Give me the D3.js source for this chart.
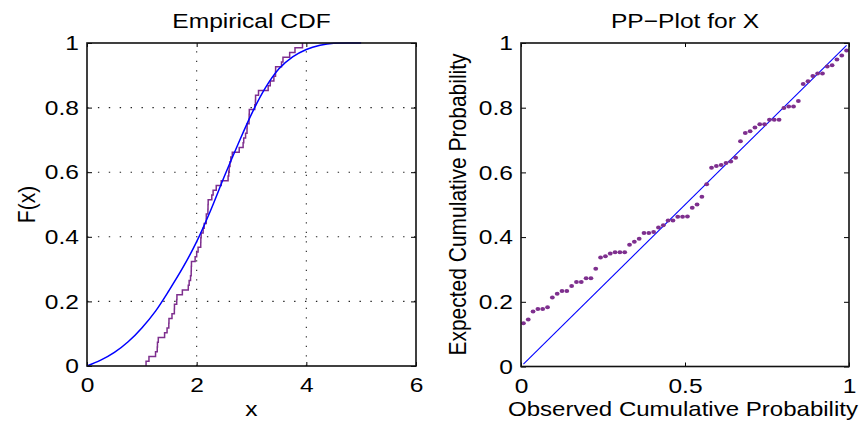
<!DOCTYPE html>
<html><head><meta charset="utf-8">
<script src="https://cdn.jsdelivr.net/npm/d3@7"></script>
<style>
body{margin:0;background:#fff;}
text{font-family:"Liberation Sans",Arial,Helvetica,sans-serif;fill:#000;}
</style>
</head><body>
<svg id="chart" width="862" height="424"></svg>
<script>
// ---------- data ----------
// theoretical CDF (x, F(x))
const cdfX = [0,0.25,0.5,0.75,1.0,1.25,1.5,1.75,2.0,2.25,2.5,2.75,3.0,3.25,3.5,3.75,4.0,4.25,4.5,4.75,5.0];
const cdfF = [0,0.018,0.042,0.075,0.118,0.17,0.235,0.305,0.385,0.48,0.585,0.685,0.78,0.86,0.92,0.957,0.98,0.993,0.999,1,1];

// sorted sample (step positions of the empirical CDF)
const sampleX = [1.077,1.13,1.25,1.281,1.285,1.30,1.415,1.46,1.492,1.495,
  1.55,1.593,1.595,1.636,1.64,1.739,1.847,1.863,1.888,1.90,
  1.902,1.905,1.972,2.0,2.026,2.074,2.076,2.082,2.118,2.137,
  2.174,2.176,2.205,2.207,2.21,2.276,2.30,2.357,2.448,2.573,
  2.585,2.593,2.608,2.623,2.65,2.776,2.847,2.858,2.892,2.918,
  2.92,2.955,2.957,2.96,3.059,3.072,3.074,3.128,3.304,3.342,
  3.408,3.438,3.44,3.547,3.574,3.696,3.793,3.93];

// PP-plot: observed vs expected cumulative probability
const ppObserved = [0.0074,0.0221,0.0368,0.0515,0.0662,0.0809,0.0956,0.1103,0.1250,0.1397,
  0.1544,0.1691,0.1838,0.1985,0.2132,0.2279,0.2426,0.2574,0.2721,0.2868,
  0.3015,0.3162,0.3309,0.3456,0.3603,0.3750,0.3897,0.4044,0.4191,0.4338,
  0.4485,0.4632,0.4779,0.4926,0.5074,0.5221,0.5368,0.5515,0.5662,0.5809,
  0.5956,0.6103,0.6250,0.6397,0.6544,0.6691,0.6838,0.6985,0.7132,0.7279,
  0.7426,0.7574,0.7721,0.7868,0.8015,0.8162,0.8309,0.8456,0.8603,0.8750,
  0.8897,0.9044,0.9191,0.9338,0.9485,0.9632,0.9779,0.9926];
const ppExpected = [0.134,0.145,0.170,0.178,0.178,0.183,0.213,0.225,0.233,0.233,
  0.249,0.261,0.261,0.273,0.273,0.302,0.337,0.341,0.349,0.353,
  0.353,0.353,0.376,0.386,0.395,0.413,0.413,0.416,0.430,0.437,
  0.451,0.451,0.463,0.463,0.464,0.491,0.501,0.525,0.563,0.614,
  0.620,0.623,0.629,0.634,0.645,0.696,0.722,0.727,0.739,0.749,
  0.749,0.763,0.763,0.763,0.799,0.804,0.804,0.821,0.873,0.882,
  0.898,0.906,0.906,0.927,0.931,0.949,0.961,0.977];

const ecdfXTicks = [0,2,4,6];
const probTicks = [0,0.2,0.4,0.6,0.8,1];
const ppXTicks = [0,0.5,1];
const gridX = [2,4];
const gridY = [0.2,0.4,0.6,0.8];

// ---------- drawing ----------
const SX = 1.17;          // horizontal stretch of the original text
const FS = 21;
const svg = d3.select("#chart");

const purple = "#7E2F8E", blue = "#0000FF";

function fmt(d){ return d3.format("~g")(d); }

function styleAxisText(g, kind){
  g.selectAll("text").attr("font-size", FS).attr("fill","#000");
  if(kind==="bottom"){
    g.selectAll(".tick text").attr("transform",`scale(${SX},1)`).attr("x",0);
  } else {
    g.selectAll(".tick text").attr("transform",`scale(${SX},1)`).attr("x",-8/SX);
  }
  g.select(".domain").remove();
  g.selectAll(".tick line").attr("stroke","#000").attr("stroke-width",1);
}

function panel(x, y, xTicks, opts){
  const x0 = x.range()[0], x1 = x.range()[1];
  const y0 = y.range()[0], y1 = y.range()[1];
  const g = svg.append("g");
  if(opts.grid){
    g.selectAll(".gx").data(gridX).join("line")
      .attr("x1",d=>x(d)).attr("x2",d=>x(d)).attr("y1",y0).attr("y2",y1)
      .attr("stroke","#222").attr("stroke-width",1.1).attr("stroke-dasharray","1.2,8.3");
    g.selectAll(".gy").data(gridY).join("line")
      .attr("x1",x0).attr("x2",x1).attr("y1",d=>y(d)).attr("y2",d=>y(d))
      .attr("stroke","#222").attr("stroke-width",1.1).attr("stroke-dasharray","1.4,9.5");
  }
  const bx = g.append("g").attr("transform",`translate(0,${y0})`)
    .call(d3.axisBottom(x).tickValues(xTicks).tickFormat(fmt).tickSize(-4).tickPadding(11.5));
  styleAxisText(bx,"bottom");
  const tx = g.append("g").attr("transform",`translate(0,${y1})`)
    .call(d3.axisTop(x).tickValues(xTicks).tickFormat("").tickSize(-4));
  styleAxisText(tx,"bottom");
  const ly = g.append("g").attr("transform",`translate(${x0},0)`)
    .call(d3.axisLeft(y).tickValues(probTicks).tickFormat(fmt).tickSize(-5).tickPadding(8));
  styleAxisText(ly,"left");
  const ry = g.append("g").attr("transform",`translate(${x1},0)`)
    .call(d3.axisRight(y).tickValues(probTicks).tickFormat("").tickSize(-5));
  styleAxisText(ry,"right");
  return g;
}

// ----- left: Empirical CDF -----
const xL = d3.scaleLinear().domain([0,6]).range([87,416]);
const yL = d3.scaleLinear().domain([0,1]).range([366,43]);
const gL = panel(xL, yL, ecdfXTicks, {grid:true});

const n = sampleX.length;
const ecdfPts = [[sampleX[0],0]].concat(sampleX.map((v,i)=>[v,(i+1)/n]));
gL.append("path").datum(ecdfPts)
  .attr("d", d3.line().x(d=>xL(d[0])).y(d=>yL(d[1])).curve(d3.curveStepAfter))
  .attr("fill","none").attr("stroke",purple).attr("stroke-width",1.5);

gL.append("path").datum(cdfX.map((v,i)=>[v,cdfF[i]]))
  .attr("d", d3.line().x(d=>xL(d[0])).y(d=>yL(d[1])).curve(d3.curveMonotoneX))
  .attr("fill","none").attr("stroke",blue).attr("stroke-width",1.5);

gL.append("rect").attr("x",87).attr("y",43).attr("width",416-87).attr("height",366-43)
  .attr("fill","none").attr("stroke","#111").attr("stroke-width",1.6);

// ----- right: PP plot -----
const xR = d3.scaleLinear().domain([0,1]).range([521,849]);
const yR = d3.scaleLinear().domain([0,1]).range([366.5,43]);
const gR = panel(xR, yR, ppXTicks, {grid:false});

const pmin = d3.min(ppObserved), pmax = d3.max(ppObserved);
gR.append("line").attr("x1",xR(pmin)).attr("y1",yR(pmin)).attr("x2",xR(pmax)).attr("y2",yR(pmax))
  .attr("stroke",blue).attr("stroke-width",1.1);

gR.selectAll("ellipse.pt").data(ppObserved).join("ellipse")
  .attr("cx",(d)=>xR(d)).attr("cy",(d,i)=>yR(ppExpected[i]))
  .attr("rx",2.4).attr("ry",2.0).attr("fill",purple);

gR.append("rect").attr("x",521).attr("y",43).attr("width",849-521).attr("height",366.5-43)
  .attr("fill","none").attr("stroke","#111").attr("stroke-width",1.6);

// ----- texts -----
function hText(txt, cx, baseline, sx){
  svg.append("text").attr("transform",`translate(${cx},${baseline}) scale(${sx||SX},1)`)
    .attr("text-anchor","middle").attr("font-size",FS).text(txt);
}
function vText(txt, bx, cy){
  svg.append("text").attr("transform",`translate(${bx},${cy}) scale(${SX},1) rotate(-90)`)
    .attr("text-anchor","middle").attr("font-size",FS).text(txt);
}
hText("Empirical CDF", (87+416)/2, 28);
hText("PP\u2212Plot for X", (521+849)/2, 28);
hText("x", (87+416)/2, 416);
hText("Observed Cumulative Probability", 683, 416, 1.145);
vText("F(x)", 35, (43+366)/2);
vText("Expected Cumulative Probability", 466, (43+366)/2);
</script>
</body></html>
